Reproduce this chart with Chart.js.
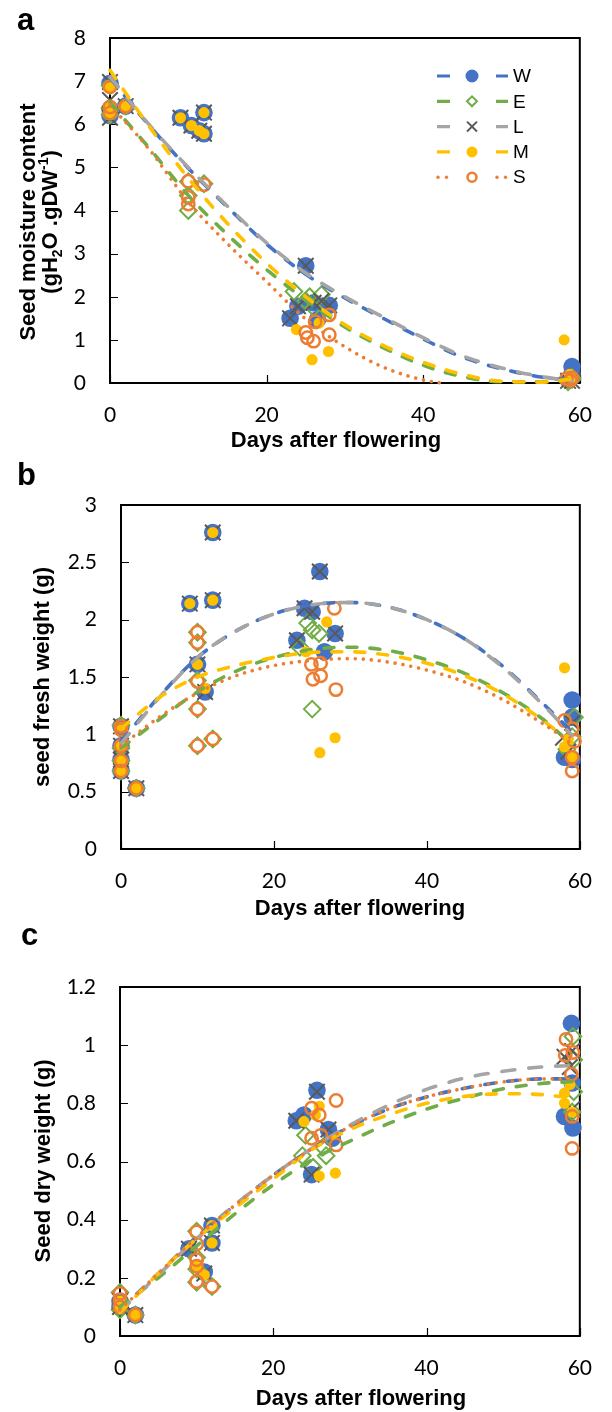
<!DOCTYPE html>
<html><head><meta charset="utf-8">
<script src="https://cdn.jsdelivr.net/npm/chart.js@4.4.1/dist/chart.umd.min.js"></script>
<style>
html,body{margin:0;padding:0;background:#fff;width:612px;height:1412px;overflow:hidden}
canvas{position:absolute;left:0}
</style></head><body>
<canvas id="ca" width="612" height="465" style="top:0px"></canvas>
<canvas id="cb" width="612" height="475" style="top:455px"></canvas>
<canvas id="cc" width="612" height="497" style="top:915px"></canvas>
<script>
// ---------------- DATA ----------------
const SERIES = ['W','E','L','M','S'];
const X_TICKS = [0,20,40,60];
const A_Y_TICKS = [0,1,2,3,4,5,6,7,8];
const B_Y_TICKS = [0,0.5,1,1.5,2,2.5,3];
const C_Y_TICKS = [0,0.2,0.4,0.6,0.8,1,1.2];

// trendline sample days
const FIT_DAYS = [0,5,10,15,20,25,30,35,40,45,50,55,59];
const FIT_DAYS_A_S = [0,5,10,15,20,25,30,35,40,42.3];

// Panel a: seed moisture content
const A_W = [[0,6.95],[0,6.35],[0,6.2],[2,6.42],[9,6.15],[10.4,5.97],[11.4,5.85],[12,6.27],[12,5.78],[23,1.5],[24,1.78],[25,2.72],[26,1.86],[26.5,1.47],[28,1.8],[59,0.38],[59,0.2],[58.5,0.08]];
const A_E = [[0,6.9],[0,6.37],[0,6.22],[2,6.42],[10,4.67],[10,4.35],[10,4.0],[12,4.62],[23.5,2.12],[25.5,2.0],[27,2.05],[26,1.75],[25,1.9],[58.5,0.03],[59,0.08],[59,0.12]];
const A_L = [[0,6.98],[0,6.56],[0,6.15],[2,6.42],[9,6.15],[10.4,5.97],[11.4,5.85],[12,6.27],[12,5.78],[23,1.5],[24,1.78],[25,2.72],[26,1.86],[27,1.9],[28,1.8],[58.5,0.05],[59,0.05]];
const A_M = [[0,6.85],[0,6.4],[0,6.25],[2,6.42],[9,6.15],[10.4,5.97],[11.4,5.85],[12,6.27],[12,5.78],[23.8,1.24],[25.8,0.54],[27.9,0.73],[26.7,1.39],[58,1.0],[58.7,0.2],[59,0.1]];
const A_S = [[0,6.87],[0,6.4],[0,6.26],[2,6.42],[10,4.68],[10,4.3],[10,4.15],[12,4.6],[25,1.17],[25.2,1.05],[26,0.97],[26.2,1.42],[28,1.12],[28,1.58],[58.3,0.1],[59,0.12],[58.8,0.06]];
const A_W_FIT = [7.08,5.97,4.98,4.08,3.22,2.52,1.97,1.49,1.02,0.6,0.33,0.14,0.06];
const A_E_FIT = [6.5,5.45,4.35,3.44,2.63,1.92,1.3,0.81,0.41,0.15,0.03,0.03,0.09];
const A_L_FIT = [7.1,5.99,5.0,4.1,3.25,2.55,2.0,1.52,1.05,0.63,0.35,0.15,0.05];
const A_M_FIT = [7.25,5.95,4.75,3.7,2.78,2.0,1.35,0.86,0.48,0.2,0.04,0.02,0.09];
const A_S_FIT = [6.45,5.42,4.2,3.23,2.35,1.48,0.84,0.36,0.07,0];

// Panel b: seed fresh weight
const B_W = [[0,1.07],[0,0.9],[0,0.78],[0,0.68],[2,0.53],[9,2.14],[12,2.17],[12,2.76],[10,1.61],[11,1.37],[23,1.82],[24,2.1],[25,2.07],[26,2.42],[28,1.88],[26.6,1.72],[59,1.3],[58,0.8],[59,1.15],[59,0.78]];
const B_E = [[0,1.08],[0,0.88],[0,0.77],[0,0.68],[2,0.53],[10,1.89],[10,1.8],[10,1.47],[10,1.22],[10,0.9],[12,0.96],[23.4,1.76],[24.4,1.97],[25,1.91],[25.9,1.88],[25,1.22],[58.3,0.87],[59.3,1.15],[59,0.98]];
const B_L = [[0,1.07],[0,0.9],[0,0.78],[0,0.68],[2,0.53],[9,2.14],[12,2.17],[12,2.76],[10,1.61],[11,1.37],[23,1.82],[24,2.1],[25,2.07],[26,2.42],[28,1.88],[57.8,0.97],[59,1.1],[58.5,0.85]];
const B_M = [[0,1.06],[0,0.9],[0,0.78],[0,0.68],[2,0.53],[9,2.14],[12,2.17],[12,2.76],[10,1.61],[11,1.4],[24.2,1.72],[26.9,1.98],[26,0.84],[28,0.97],[58,1.58],[58,0.89],[58.5,0.96],[59,0.8]];
const B_S = [[0,1.07],[0,1.04],[0,0.9],[0,0.77],[0,0.68],[2,0.53],[10,1.89],[10,1.8],[10,1.46],[10,1.22],[10,0.9],[12,0.96],[24.9,1.61],[25.1,1.48],[26.1,1.51],[26.1,1.62],[28.1,1.39],[27.9,2.1],[58,1.12],[59,1.05],[59.3,0.94],[59,0.8],[59,0.68]];
const B_W_FIT = [0.94,1.33,1.67,1.9,2.05,2.13,2.15,2.11,2.0,1.83,1.59,1.28,1.02];
const B_E_FIT = [0.88,1.13,1.37,1.55,1.67,1.74,1.76,1.73,1.65,1.53,1.36,1.14,0.91];
const B_L_FIT = [0.92,1.32,1.67,1.9,2.05,2.13,2.15,2.11,2.0,1.83,1.58,1.27,0.99];
const B_M_FIT = [1.05,1.32,1.5,1.6,1.67,1.715,1.72,1.69,1.62,1.51,1.35,1.13,0.92];
const B_S_FIT = [0.9,1.15,1.36,1.51,1.6,1.645,1.66,1.63,1.56,1.455,1.3,1.1,0.92];

// Panel c: seed dry weight
const C_W = [[0,0.12],[0,0.1],[2,0.072],[9,0.3],[12,0.38],[12,0.32],[11,0.22],[23,0.74],[24,0.76],[25.7,0.845],[27.2,0.71],[25,0.555],[27.7,0.68],[58.9,1.075],[59,0.87],[58,0.755],[59.1,0.715]];
const C_E = [[0,0.15],[0,0.09],[2,0.072],[10,0.36],[10,0.27],[10,0.23],[10,0.185],[12,0.17],[24.2,0.69],[23.8,0.62],[26.9,0.62],[25.2,0.58],[26.5,0.65],[59.1,1.03],[59.2,0.84],[59.2,0.95],[59,0.77]];
const C_L = [[0,0.12],[0,0.1],[2,0.072],[9,0.3],[12,0.38],[12,0.32],[11,0.215],[23,0.74],[25.7,0.84],[27.2,0.71],[25,0.555],[58,0.96],[58.7,0.925],[59,0.98],[59,0.78]];
const C_M = [[0,0.12],[0,0.1],[2,0.072],[12,0.38],[12,0.32],[11,0.21],[10,0.24],[24,0.737],[26,0.79],[26,0.55],[28.1,0.56],[25.5,0.76],[58,0.835],[58.7,0.865],[58,0.8],[59,0.77]];
const C_S = [[0,0.146],[0,0.124],[0,0.1],[2,0.072],[10,0.358],[10,0.316],[10,0.262],[10,0.24],[10,0.187],[12,0.17],[25,0.783],[26,0.76],[28.2,0.81],[28.2,0.657],[25,0.68],[26.2,0.69],[58.2,1.02],[58.1,0.965],[59.1,0.975],[58.9,0.9],[59,0.755],[59,0.645]];
const C_W_FIT = [0.09,0.215,0.34,0.45,0.553,0.643,0.72,0.78,0.822,0.852,0.874,0.884,0.884];
const C_E_FIT = [0.1,0.2,0.31,0.42,0.52,0.605,0.67,0.73,0.78,0.818,0.85,0.868,0.875];
const C_L_FIT = [0.085,0.21,0.335,0.45,0.553,0.645,0.725,0.793,0.848,0.887,0.91,0.925,0.93];
const C_M_FIT = [0.08,0.215,0.335,0.44,0.54,0.64,0.71,0.76,0.8,0.824,0.833,0.83,0.818];
const C_S_FIT = [0.09,0.215,0.34,0.45,0.553,0.643,0.72,0.78,0.822,0.852,0.874,0.884,0.884];

// ---------------- STYLE ----------------
const STYLE = {
  W:{line:'#4472C4', dash:[10,13], marker:'circle', r:8.8, fill:'#4472C4', stroke:'#4472C4', bw:0, lr:6.5},
  E:{line:'#70AD47', dash:[10,13], marker:'rectRot', r:8.3, fill:'rgba(0,0,0,0)', stroke:'#70AD47', bw:2, lr:5},
  L:{line:'#A5A5A5', dash:[13,14], marker:'crossRot', r:11, fill:'rgba(0,0,0,0)', stroke:'#595959', bw:2, lr:7},
  M:{line:'#FFC000', dash:[10,13], marker:'circle', r:5.6, fill:'#FFC000', stroke:'#FFC000', bw:0, lr:5.5},
  S:{line:'#ED7D31', dash:[0.01,8], marker:'circle', r:6.2, fill:'rgba(0,0,0,0)', stroke:'#ED7D31', bw:2.5, lr:4.5}
};
const TICK_FONT = {family:'Lato, "Open Sans", sans-serif', size:21};
const TITLE_FONT = 'bold 22px "Liberation Sans", Arial, sans-serif';

function pts(arr){ return arr.map(p => ({x:p[0], y:p[1]})); }
function fitPts(days, vals){ return vals.map((v,i) => ({x:days[i], y:v})); }

function markerPath(ctx, style, r, x, y){
  ctx.beginPath();
  if (style === 'circle') ctx.arc(x, y, r, 0, Math.PI*2);
  else if (style === 'rectRot') { ctx.moveTo(x-r,y); ctx.lineTo(x,y-r); ctx.lineTo(x+r,y); ctx.lineTo(x,y+r); ctx.closePath(); }
  else if (style === 'crossRot') { const d=r*0.7071; ctx.moveTo(x-d,y-d); ctx.lineTo(x+d,y+d); ctx.moveTo(x+d,y-d); ctx.lineTo(x-d,y+d); }
}

function drawRotRuns(ctx, runs, cx, cy){
  let total = 0;
  runs.forEach(r => { ctx.font = 'bold ' + r.size + 'px "Liberation Sans", Arial, sans-serif'; r.w = ctx.measureText(r.t).width; total += r.w; });
  ctx.save(); ctx.translate(cx, cy); ctx.rotate(-Math.PI/2);
  ctx.textAlign = 'left'; ctx.textBaseline = 'alphabetic'; ctx.fillStyle = '#000';
  let x = -total/2;
  runs.forEach(r => { ctx.font = 'bold ' + r.size + 'px "Liberation Sans", Arial, sans-serif'; ctx.fillText(r.t, x, 8 + r.dy); x += r.w; });
  ctx.restore();
}

function decor(p){
  return {
    id:'decor',
    beforeDatasetsDraw(chart){
      const {ctx, chartArea:ca, scales:{x, y}} = chart;
      ctx.save();
      ctx.strokeStyle = '#000'; ctx.lineWidth = 2;
      ctx.strokeRect(ca.left, ca.top, ca.right-ca.left, ca.bottom-ca.top);
      ctx.lineWidth = 1.2; ctx.beginPath();
      y.ticks.forEach(t => { const py = Math.round(y.getPixelForValue(t.value))+0.5; ctx.moveTo(ca.left, py); ctx.lineTo(ca.left+8, py); });
      x.ticks.forEach(t => { const px = Math.round(x.getPixelForValue(t.value))+0.5; ctx.moveTo(px, ca.bottom); ctx.lineTo(px, ca.bottom-8); });
      ctx.stroke();
      ctx.restore();
    },
    afterDraw(chart){
      const ctx = chart.ctx;
      ctx.save();
      ctx.fillStyle = '#000';
      ctx.font = 'bold 31px "Liberation Sans", Arial, sans-serif';
      ctx.textAlign = 'left'; ctx.textBaseline = 'alphabetic';
      ctx.fillText(p.letter, p.letterX, 30);
      ctx.font = TITLE_FONT; ctx.textAlign = 'center'; ctx.textBaseline = 'middle';
      ctx.fillText(p.xTitle, p.xTitleX, p.xTitleY);
      ctx.restore();
      p.yTitles.forEach(t => drawRotRuns(ctx, t.runs, t.x, t.y));
      if (p.legend) {
        ctx.save();
        SERIES.forEach((s, i) => {
          const st = STYLE[s]; const y = 76 + i*25.3;
          ctx.strokeStyle = st.line; ctx.lineWidth = 3.2;
          if (s === 'S') {
            ctx.fillStyle = st.line;
            [438,446.5,497,505.5].forEach(dx => { ctx.beginPath(); ctx.arc(dx, y, 1.7, 0, Math.PI*2); ctx.fill(); });
          } else {
            ctx.beginPath(); ctx.moveTo(437, y); ctx.lineTo(450, y); ctx.moveTo(496, y); ctx.lineTo(508, y); ctx.stroke();
          }
          markerPath(ctx, st.marker, st.lr, 472, y);
          if (st.marker !== 'crossRot') { ctx.fillStyle = (s==='E'||s==='S') ? '#fff' : st.fill; ctx.fill(); }
          if (st.bw > 0) { ctx.strokeStyle = st.stroke; ctx.lineWidth = st.bw; ctx.stroke(); }
          ctx.fillStyle = '#000'; ctx.font = '19px "Liberation Sans", Arial, sans-serif';
          ctx.textAlign = 'left'; ctx.textBaseline = 'middle';
          ctx.fillText(s, 513, y + 1);
        });
        ctx.restore();
      }
    }
  };
}

function makePanel(id, cfg){
  const datasets = [];
  SERIES.forEach((s, i) => {
    const st = STYLE[s];
    datasets.push({
      label: s, data: pts(cfg.points[i]), showLine:false, clip:false, order: 20 - i,
      pointStyle: st.marker, pointRadius: st.r, pointHoverRadius: st.r,
      pointBackgroundColor: st.fill, pointBorderColor: st.stroke, pointBorderWidth: st.bw
    });
  });
  SERIES.forEach((s, i) => {
    const st = STYLE[s];
    datasets.push({
      label: s + ' fit', data: fitPts(cfg.fitDays[i], cfg.fits[i]), showLine:true, clip:false, order: 10 - i,
      pointRadius:0, borderColor: st.line, borderWidth:3.6, borderDash: st.dash,
      borderCapStyle:'round', cubicInterpolationMode:'monotone', fill:false
    });
  });
  const canvas = document.getElementById(id);
  return new Chart(canvas, {
    type:'scatter',
    data:{datasets},
    options:{
      responsive:false, animation:false, devicePixelRatio:1, events:[],
      layout:{padding:{left:0, top:cfg.top, right:612 - cfg.right, bottom:0}},
      plugins:{legend:{display:false}, tooltip:{enabled:false}},
      scales:{
        x:{type:'linear', min:0, max:60,
           afterBuildTicks: sc => { sc.ticks = X_TICKS.map(v => ({value:v})); },
           afterFit: sc => { sc.height = canvas.height - cfg.bottom; },
           ticks:{padding:20, font:TICK_FONT, color:'#000', maxRotation:0, autoSkip:false},
           grid:{display:false, drawTicks:false}, border:{display:false}},
        y:{type:'linear', min:cfg.yTicks[0], max:cfg.yTicks[cfg.yTicks.length-1],
           afterBuildTicks: sc => { sc.ticks = cfg.yTicks.map(v => ({value:v})); },
           afterFit: sc => { sc.width = cfg.left; },
           ticks:{padding:24, font:TICK_FONT, color:'#000', autoSkip:false, callback: v => String(Math.round(v*10)/10)},
           grid:{display:false, drawTicks:false}, border:{display:false}}
      }
    },
    plugins:[decor(cfg.decor)]
  });
}

makePanel('ca', {
  points:[A_W, A_E, A_L, A_M, A_S],
  fits:[A_W_FIT, A_E_FIT, A_L_FIT, A_M_FIT, A_S_FIT],
  fitDays:[FIT_DAYS, FIT_DAYS, FIT_DAYS, FIT_DAYS, FIT_DAYS_A_S],
  yTicks:A_Y_TICKS, left:110, right:584, top:38, bottom:383,
  decor:{letter:'a', letterX:17, xTitle:'Days after flowering', xTitleX:336, xTitleY:441, legend:true,
    yTitles:[
      {x:27, y:222, runs:[{t:'Seed moisture content', size:22, dy:0}]},
      {x:49, y:222, runs:[{t:'(gH', size:22, dy:0},{t:'2', size:14, dy:5},{t:'O .gDW', size:22, dy:0},{t:'-1', size:14, dy:-9},{t:')', size:22, dy:0}]}
    ]}
});
makePanel('cb', {
  points:[B_W, B_E, B_L, B_M, B_S],
  fits:[B_W_FIT, B_E_FIT, B_L_FIT, B_M_FIT, B_S_FIT],
  fitDays:[FIT_DAYS, FIT_DAYS, FIT_DAYS, FIT_DAYS, FIT_DAYS],
  yTicks:B_Y_TICKS, left:121, right:598, top:50, bottom:394,
  decor:{letter:'b', letterX:17, xTitle:'Days after flowering', xTitleX:360, xTitleY:454, legend:false,
    yTitles:[{x:41, y:222, runs:[{t:'seed fresh weight (g)', size:22, dy:0}]}]}
});
makePanel('cc', {
  points:[C_W, C_E, C_L, C_M, C_S],
  fits:[C_W_FIT, C_E_FIT, C_L_FIT, C_M_FIT, C_S_FIT],
  fitDays:[FIT_DAYS, FIT_DAYS, FIT_DAYS, FIT_DAYS, FIT_DAYS],
  yTicks:C_Y_TICKS, left:120, right:598, top:72, bottom:421,
  decor:{letter:'c', letterX:21, xTitle:'Days after flowering', xTitleX:361, xTitleY:484, legend:false,
    yTitles:[{x:42, y:246, runs:[{t:'Seed dry weight (g)', size:22, dy:0}]}]}
});
</script>
</body></html>
